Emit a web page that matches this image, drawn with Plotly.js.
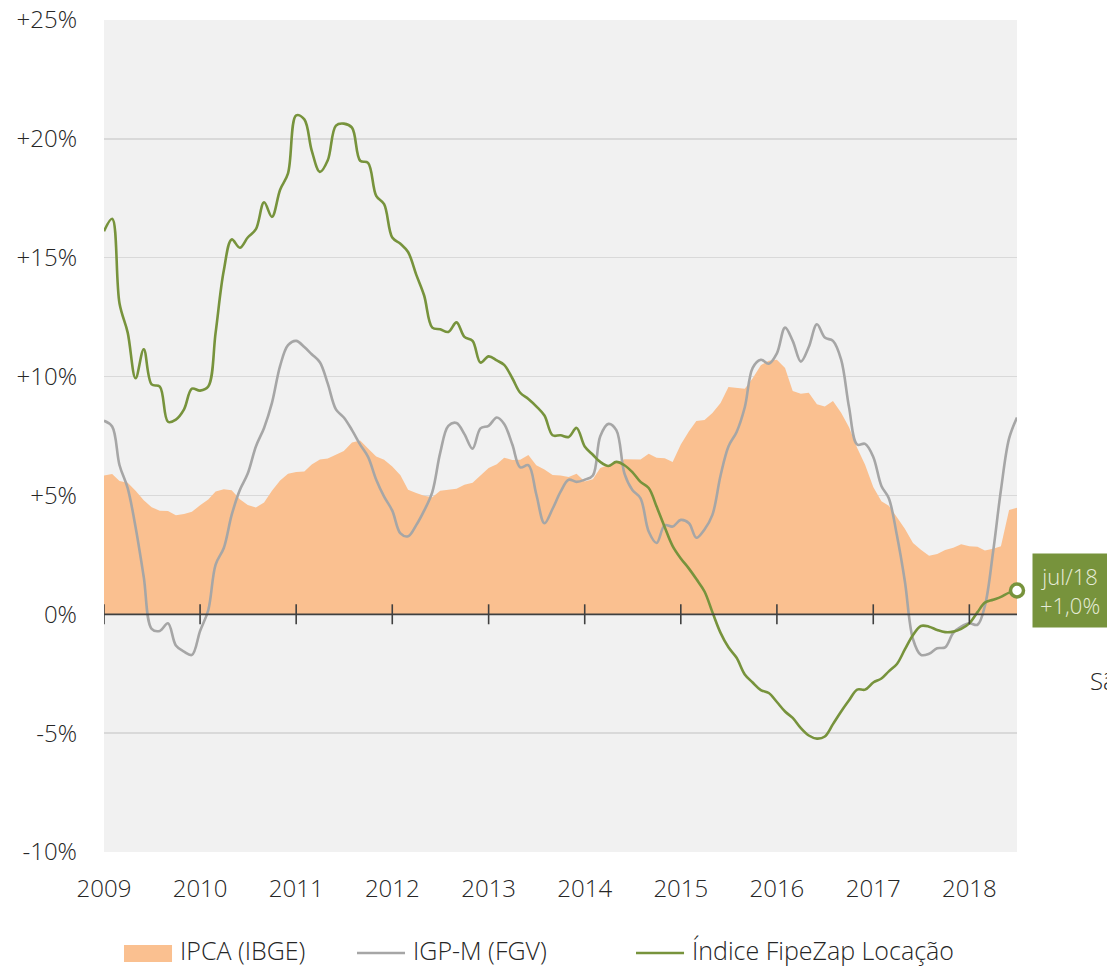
<!DOCTYPE html>
<html>
<head>
<meta charset="utf-8">
<script src="https://cdn.plot.ly/plotly-3.0.1.min.js"></script>
<style>
  html, body { margin: 0; padding: 0; background: #ffffff; overflow: hidden; }
  #chart { width: 1107px; height: 970px; }
</style>
</head>
<body>
<div id="chart"></div>
<script>
// ---- Data (12-month variation, %, monthly from Jan 2009 to Jul 2018) ----
const startYear = 2009;
const yearTicks = [2009, 2010, 2011, 2012, 2013, 2014, 2015, 2016, 2017, 2018];

const ipca = [
  5.84, 5.90, 5.61, 5.53, 5.20, 4.80, 4.50, 4.36, 4.34, 4.17, 4.22, 4.31,
  4.59, 4.83, 5.17, 5.26, 5.22, 4.84, 4.60, 4.49, 4.70, 5.20, 5.63, 5.91,
  5.99, 6.01, 6.30, 6.51, 6.55, 6.71, 6.87, 7.23, 7.31, 6.97, 6.64, 6.50,
  6.22, 5.85, 5.24, 5.10, 4.99, 4.92, 5.20, 5.24, 5.28, 5.45, 5.53, 5.84,
  6.15, 6.31, 6.59, 6.49, 6.50, 6.70, 6.27, 6.09, 5.86, 5.84, 5.77, 5.91,
  5.59, 5.68, 6.15, 6.28, 6.37, 6.52, 6.50, 6.51, 6.75, 6.59, 6.56, 6.41,
  7.14, 7.70, 8.13, 8.17, 8.47, 8.89, 9.56, 9.53, 9.49, 9.93, 10.48, 10.67,
  10.71, 10.36, 9.39, 9.28, 9.32, 8.84, 8.74, 8.97, 8.48, 7.87, 6.99, 6.29,
  5.35, 4.76, 4.57, 4.08, 3.60, 3.00, 2.71, 2.46, 2.54, 2.70, 2.80, 2.95,
  2.86, 2.84, 2.68, 2.76, 2.86, 4.39, 4.48
];

const igpm = [
  8.14, 7.90, 6.27, 5.31, 3.66, 1.57, -0.61, -0.70, -0.38, -1.31, -1.57, -1.71,
  -0.70, 0.17, 2.09, 2.79, 4.18, 5.23, 5.92, 7.06, 7.84, 8.89, 10.45, 11.32,
  11.50, 11.24, 10.94, 10.60, 9.70, 8.62, 8.28, 7.75, 7.14, 6.62, 5.66, 4.95,
  4.36, 3.40, 3.28, 3.75, 4.36, 5.14, 6.79, 7.93, 8.05, 7.58, 6.97, 7.82,
  7.93, 8.28, 8.01, 7.14, 6.18, 6.27, 5.05, 3.83, 4.44, 5.15, 5.66, 5.57,
  5.66, 5.84, 7.49, 8.01, 7.75, 5.92, 5.23, 4.88, 3.48, 3.00, 3.75, 3.69,
  3.97, 3.83, 3.22, 3.57, 4.18, 5.84, 7.06, 7.67, 8.71, 10.37, 10.71, 10.54,
  10.98, 12.06, 11.50, 10.63, 11.24, 12.20, 11.64, 11.50, 10.71, 8.71, 7.14, 7.17,
  6.62, 5.40, 4.88, 3.31, 1.39, -1.05, -1.71, -1.66, -1.43, -1.39, -0.78, -0.52,
  -0.38, -0.44, 0.35, 2.61, 5.23, 7.40, 8.28
];

const fipezap = [
  16.11, 16.64, 13.07, 11.85, 9.93, 11.15, 9.67, 9.58, 8.10, 8.19, 8.62, 9.49,
  9.41, 9.58, 11.85, 14.46, 15.77, 15.42, 15.85, 16.20, 17.33, 16.72, 17.86, 18.55,
  20.99, 20.82, 19.51, 18.61, 19.10, 20.56, 20.64, 20.47, 19.08, 18.99, 17.60, 17.25,
  15.85, 15.59, 15.24, 14.29, 13.41, 12.06, 11.99, 11.88, 12.28, 11.67, 11.50, 10.59,
  10.85, 10.68, 10.49, 9.93, 9.32, 9.06, 8.75, 8.36, 7.53, 7.53, 7.46, 7.84,
  7.06, 6.71, 6.41, 6.24, 6.41, 6.27, 5.98, 5.57, 5.31, 4.53, 3.66, 2.87,
  2.35, 1.92, 1.48, 0.96, 0.09, -0.78, -1.39, -1.83, -2.53, -2.87, -3.19, -3.31,
  -3.69, -4.09, -4.36, -4.79, -5.10, -5.23, -5.14, -4.62, -4.09, -3.62, -3.17, -3.17,
  -2.87, -2.70, -2.40, -2.09, -1.48, -0.87, -0.49, -0.52, -0.66, -0.75, -0.73, -0.61,
  -0.38, 0.09, 0.49, 0.61, 0.73, 0.91, 1.00
];

const yTickVals = [-10, -5, 0, 5, 10, 15, 20, 25];
const yTickText = ['-10%', '-5%', '0%', '+5%', '+10%', '+15%', '+20%', '+25%'];
const seriesNames = ['IPCA (IBGE)', 'IGP-M (FGV)', 'Índice FipeZap Locação'];
const lastLabel = 'jul/18<br>+1,0%';
const sideLabel = 'São Paulo';

// ---- Month axis built from the data length ----
const months = ipca.map((_, i) => {
  const y = startYear + Math.floor(i / 12);
  const m = (i % 12) + 1;
  return y + '-' + (m < 10 ? '0' + m : m) + '-01';
});
const lastIdx = months.length - 1;

// ---- Styles ----
const FONT = 'Open Sans, Segoe UI, Noto Sans, sans-serif';
const TXT = '#262626';
const C_IPCA = '#fac090';
const C_IGPM = '#a6a6a6';
const C_FIPE = '#77933c';

const traces = [
  {
    x: months, y: ipca, name: seriesNames[0], type: 'scatter', mode: 'lines',
    fill: 'tozeroy', fillcolor: C_IPCA, line: { width: 0, color: C_IPCA },
    hoverinfo: 'skip'
  },
  {
    x: months, y: igpm, name: seriesNames[1], type: 'scatter', mode: 'lines',
    line: { color: C_IGPM, width: 2.6, shape: 'spline', smoothing: 1 },
    hoverinfo: 'skip'
  },
  {
    x: months, y: fipezap, name: seriesNames[2], type: 'scatter', mode: 'lines',
    line: { color: C_FIPE, width: 2.6, shape: 'spline', smoothing: 1 },
    hoverinfo: 'skip'
  },
  {
    x: [months[lastIdx]], y: [fipezap[lastIdx]], type: 'scatter', mode: 'markers',
    marker: { size: 13, color: '#ffffff', line: { color: C_FIPE, width: 3.5 } },
    showlegend: false, hoverinfo: 'skip', cliponaxis: false
  }
];

// zero axis line and crossing year ticks
const shapes = [
  { type: 'line', xref: 'paper', yref: 'y', x0: 0, x1: 1, y0: 0, y1: 0,
    line: { color: '#404040', width: 1.8 }, layer: 'above' }
];
yearTicks.forEach(yr => {
  shapes.push({ type: 'line', xref: 'x', yref: 'y',
    x0: yr + '-01-01', x1: yr + '-01-01', y0: -0.42, y1: 0.42,
    line: { color: '#404040', width: 1.6 }, layer: 'above' });
});

// custom legend (swatches)
const legY = -0.1180;
shapes.push({ type: 'rect', xref: 'paper', yref: 'paper', x0: 0.0219, x1: 0.0745,
  y0: -0.1322, y1: -0.1118, fillcolor: C_IPCA, line: { width: 0 } });
shapes.push({ type: 'line', xref: 'paper', yref: 'paper', x0: 0.2771, x1: 0.3297,
  y0: -0.1214, y1: -0.1214, line: { color: C_IGPM, width: 2.6 } });
shapes.push({ type: 'line', xref: 'paper', yref: 'paper', x0: 0.5827, x1: 0.6353,
  y0: -0.1214, y1: -0.1214, line: { color: C_FIPE, width: 2.6 } });

const legFont = { family: FONT, size: 25, color: TXT, weight: 300 };
const annotations = [
  { xref: 'paper', yref: 'paper', x: 0.081, y: legY, xanchor: 'left', yanchor: 'middle',
    text: seriesNames[0], showarrow: false, font: legFont },
  { xref: 'paper', yref: 'paper', x: 0.3363, y: legY, xanchor: 'left', yanchor: 'middle',
    text: seriesNames[1], showarrow: false, font: legFont },
  { xref: 'paper', yref: 'paper', x: 0.6418, y: legY, xanchor: 'left', yanchor: 'middle',
    text: seriesNames[2], showarrow: false, font: legFont },
  { xref: 'x', yref: 'y', x: months[lastIdx], y: fipezap[lastIdx],
    xanchor: 'left', yanchor: 'middle', xshift: 15, showarrow: false,
    text: lastLabel, align: 'center', bgcolor: C_FIPE, borderpad: 7,
    font: { family: FONT, size: 22, color: '#e6ecd8', weight: 300 } },
  { xref: 'paper', yref: 'paper', x: 1.0778, y: 0.2067, xanchor: 'left', yanchor: 'middle',
    text: sideLabel, showarrow: false, font: { family: FONT, size: 24, color: TXT, weight: 300 } }
];

const layout = {
  width: 1107, height: 970,
  margin: { l: 104, r: 90, t: 20, b: 118, pad: 0 },
  paper_bgcolor: '#ffffff', plot_bgcolor: '#f1f1f1',
  showlegend: false,
  font: { family: FONT, size: 24, color: TXT, weight: 300 },
  xaxis: {
    type: 'date',
    range: [months[0], months[lastIdx]],
    tickvals: yearTicks.map(y => y + '-01-01'),
    ticktext: yearTicks.map(String),
    ticks: '', showgrid: false, zeroline: false, showline: false,
    ticklabelstandoff: 20,
    tickfont: { family: FONT, size: 24, color: TXT, weight: 300 },
    fixedrange: true
  },
  yaxis: {
    range: [-10, 25],
    tickvals: yTickVals, ticktext: yTickText,
    ticks: '', showgrid: true, gridcolor: '#d9d9d9', gridwidth: 1.5,
    zeroline: false, showline: false,
    ticklabelstandoff: 26,
    tickfont: { family: FONT, size: 24, color: TXT, weight: 300 },
    fixedrange: true
  },
  shapes: shapes,
  annotations: annotations
};

Plotly.newPlot('chart', traces, layout, { staticPlot: true, displayModeBar: false });
</script>
</body>
</html>
